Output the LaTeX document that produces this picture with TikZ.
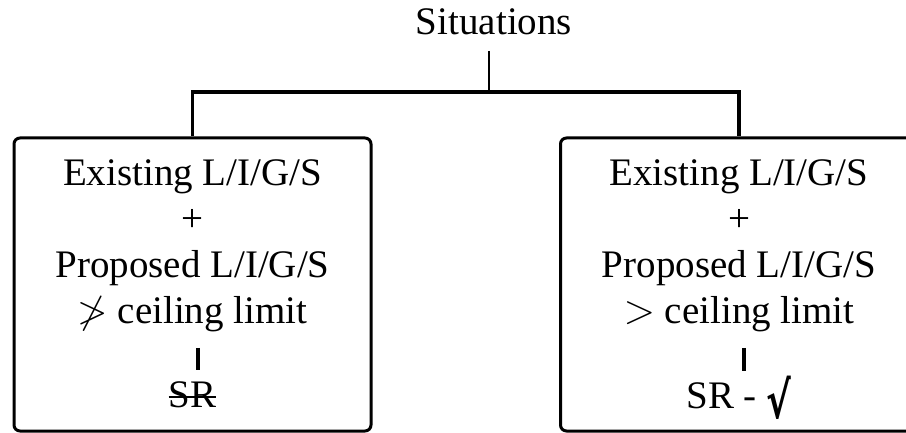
\documentclass[tikz,border=0pt]{standalone}
\usepackage{fontspec}
\usepackage{amssymb}
\setmainfont{Liberation Serif}
\newfontfamily\symfont{DejaVu Sans}
\newcommand{\struck}[1]{\setbox0\hbox{#1}\rlap{\rule[0.23em]{\wd0}{0.9pt}}\box0}
\newcommand{\tick}{\raisebox{-5pt}{\scalebox{0.95}[1.3]{\symfont\bfseries √}}}
\usetikzlibrary{positioning}
\tikzset{
  cbox/.style={draw, line width=1.5pt, rounded corners=3pt,
               minimum width=178.5pt, minimum height=146.5pt, inner sep=0pt},
  ctxt/.style={align=center, font=\fontsize{19.5}{23}\selectfont, inner sep=0pt},
  cres/.style={ctxt, text height=13pt, text depth=4pt},
  cstem/.style={line width=1.3pt, shorten <=7.5pt},
  cbus/.style={line width=1.9pt, line join=miter},
  ctick/.style={line width=2pt, shorten <=8pt, shorten >=5.5pt},
}

\begin{document}
\begin{tikzpicture}[x=0.5pt, y=-0.5pt]
  \useasboundingbox (0,0) rectangle (906,433);
  \node[ctxt, anchor=base](sit) at (494,35) {Situations};
  \coordinate (hub) at (489,92);
  \node[cbox](lbox) at (192.5,284.5) {};
  \node[cbox](rbox) at (739,284.5) {};
  % conditions (base = last line) and results
  \node[ctxt, anchor=base](lcond) at (192.5,323)
    {Existing L/I/G/S\\+\\Proposed L/I/G/S\\$\ngtr$ ceiling limit};
  \node[ctxt, anchor=base](rcond) at (739,323)
    {Existing L/I/G/S\\+\\Proposed L/I/G/S\\$>$ ceiling limit};
  \node[cres, anchor=base](lres) at (192.5,407) {\struck{SR}};
  \node[cres, anchor=base](rres) at (739,408) {SR - \tick};
  \draw[ctick]([xshift=2.5pt]lcond.south) -- ([xshift=2.5pt]lres.north);
  \draw[ctick]([xshift=2.5pt]rcond.south) -- ([xshift=2.5pt]rres.north);
  % tree
  \draw[cstem](sit.south -| hub) -- (hub);
  \draw[cbus](lbox.north) |- (hub) -| (rbox.north);
\end{tikzpicture}
\end{document}
